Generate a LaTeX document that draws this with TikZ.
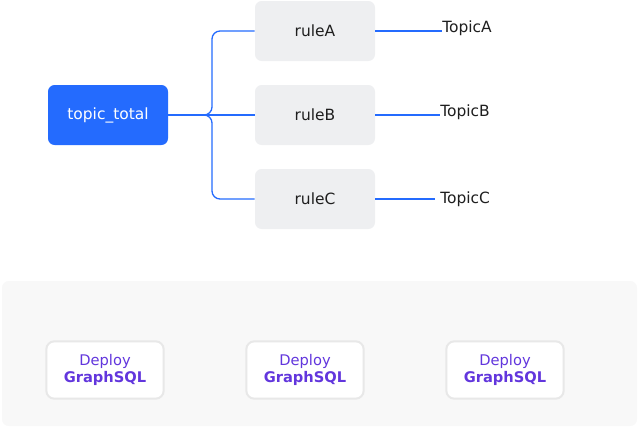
\documentclass[tikz,border=0pt]{standalone}
\usepackage{fontspec}
\setmainfont{DejaVu Sans}
\usepackage{tikz}
\usetikzlibrary{calc}
\definecolor{blue}{RGB}{36, 107, 254}
\definecolor{rulegray}{RGB}{238, 239, 241}
\definecolor{panel}{RGB}{248, 248, 248}
\definecolor{edge}{RGB}{232, 232, 232}
\definecolor{purple}{RGB}{98, 54, 221}
\definecolor{ink}{RGB}{30, 30, 30}

\begin{document}
\begin{tikzpicture}[x=0.75pt, y=-0.75pt, font=\fontsize{11.6}{13}\selectfont,
  rulebox/.style={fill=rulegray, rounded corners=5pt, minimum width=90pt, minimum height=45pt, text=ink},
  deploybox/.style={fill=white, draw=edge, line width=1.5pt, rounded corners=6pt, minimum width=88pt, minimum height=43pt, align=center, text=purple, font=\fontsize{11}{12.5}\selectfont},
  link/.style={draw=blue, line width=1pt}]
  \useasboundingbox (0, 0) rectangle (640, 429);

  \node[fill=blue, rounded corners=5pt, minimum width=90pt, minimum height=45pt, text=white] (total) at (108, 115) {topic\_total};

  \node[rulebox] (ruleA) at (315, 31) {ruleA};
  \node[rulebox] (ruleB) at (315, 115) {ruleB};
  \node[rulebox] (ruleC) at (315, 199) {ruleC};

  \node[anchor=west, inner sep=0pt, text=ink] (topicA) at (442, 28) {TopicA};
  \node[anchor=west, inner sep=0pt, text=ink] (topicB) at (440, 112) {TopicB};
  \node[anchor=west, inner sep=0pt, text=ink] (topicC) at (440, 199) {TopicC};

  % brace from topic_total to the rules
  \draw[link] (total.east) -- (ruleB.west);
  \draw[link, rounded corners=6pt] (ruleA.west) -- (212, 31) -- (212, 115) -- (202, 115);
  \draw[link, rounded corners=6pt] (ruleC.west) -- (212, 199) -- (212, 115) -- (202, 115);

  \draw[link] (ruleA.east) -- (ruleA.east -| topicA.west);
  \draw[link] (ruleB.east) -- (ruleB.east -| topicB.west);
  \draw[link] (ruleC.east) -- ($(ruleC.east -| topicC.west) + (-5, 0)$);

  \fill[panel, rounded corners=5pt] (2, 281) rectangle (637, 426);
  \node[deploybox] (deploy1) at (105, 370) {Deploy\\\textbf{GraphSQL}};
  \node[deploybox] (deploy2) at (305, 370) {Deploy\\\textbf{GraphSQL}};
  \node[deploybox] (deploy3) at (505, 370) {Deploy\\\textbf{GraphSQL}};
\end{tikzpicture}
\end{document}
